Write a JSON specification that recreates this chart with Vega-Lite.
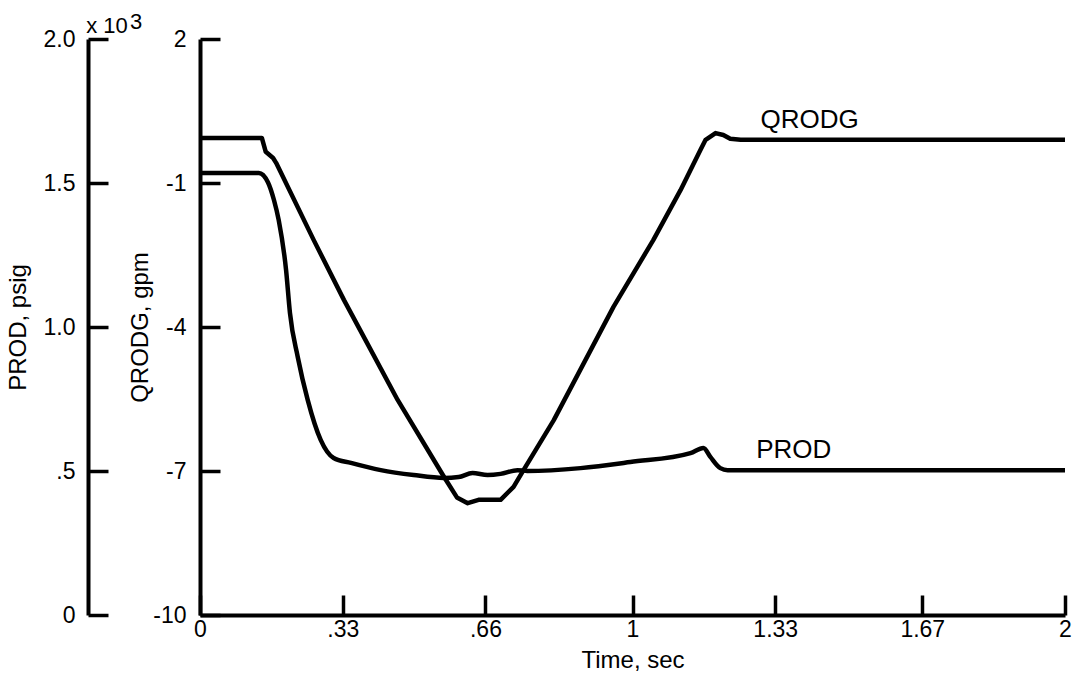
{
  "$schema": "https://vega.github.io/schema/vega-lite/v6.json",
  "width": 865,
  "height": 576,
  "autosize": "none",
  "padding": {"left": 200, "top": 39, "right": 8, "bottom": 66},
  "background": "white",
  "config": {
    "view": {"stroke": null},
    "font": "Liberation Sans",
    "axis": {
      "grid": false,
      "domainColor": "black",
      "domainWidth": 4,
      "tickColor": "black",
      "tickWidth": 3.5,
      "tickSize": -20,
      "labelColor": "black",
      "labelFont": "Liberation Sans",
      "labelFontSize": 23,
      "labelFlush": false,
      "labelOverlap": false,
      "titleColor": "black",
      "titleFont": "Liberation Sans",
      "titleFontSize": 24,
      "titleFontWeight": "normal"
    }
  },
  "datasets": {
    "qrodg": [
      {"t": 0, "v": -0.06},
      {"t": 0.143, "v": -0.06},
      {"t": 0.152, "v": -0.35},
      {"t": 0.169, "v": -0.48},
      {"t": 0.176, "v": -0.58},
      {"t": 0.263, "v": -2.19},
      {"t": 0.333, "v": -3.44},
      {"t": 0.379, "v": -4.21},
      {"t": 0.457, "v": -5.52},
      {"t": 0.564, "v": -7.12},
      {"t": 0.594, "v": -7.55},
      {"t": 0.619, "v": -7.67},
      {"t": 0.644, "v": -7.6},
      {"t": 0.695, "v": -7.6},
      {"t": 0.725, "v": -7.33},
      {"t": 0.748, "v": -6.98},
      {"t": 0.818, "v": -5.94},
      {"t": 0.956, "v": -3.58},
      {"t": 1.048, "v": -2.19},
      {"t": 1.111, "v": -1.15},
      {"t": 1.157, "v": -0.31},
      {"t": 1.169, "v": -0.1},
      {"t": 1.192, "v": 0.04},
      {"t": 1.21, "v": 0.0},
      {"t": 1.226, "v": -0.08},
      {"t": 1.25, "v": -0.1},
      {"t": 2.0, "v": -0.1}
    ],
    "prod": [
      {"t": 0, "p": 1535},
      {"t": 0.136, "p": 1535},
      {"t": 0.157, "p": 1503},
      {"t": 0.171, "p": 1441},
      {"t": 0.182, "p": 1371},
      {"t": 0.199, "p": 1198},
      {"t": 0.208, "p": 1049},
      {"t": 0.226, "p": 896},
      {"t": 0.249, "p": 747},
      {"t": 0.279, "p": 608},
      {"t": 0.309, "p": 545},
      {"t": 0.349, "p": 528},
      {"t": 0.418, "p": 503},
      {"t": 0.494, "p": 486},
      {"t": 0.564, "p": 476},
      {"t": 0.598, "p": 479},
      {"t": 0.63, "p": 493},
      {"t": 0.665, "p": 486},
      {"t": 0.695, "p": 490},
      {"t": 0.734, "p": 503},
      {"t": 0.757, "p": 500},
      {"t": 0.88, "p": 510},
      {"t": 0.995, "p": 531},
      {"t": 1.134, "p": 562},
      {"t": 1.164, "p": 580},
      {"t": 1.18, "p": 549},
      {"t": 1.203, "p": 510},
      {"t": 1.22, "p": 503},
      {"t": 2.0, "p": 503}
    ],
    "qlabel": [{"label": "QRODG", "t": 1.296, "v": 0.31}],
    "plabel": [{"label": "PROD", "t": 1.286, "p": 573}],
    "mult": [
      {"label": "x 10", "t": -0.263, "p": 2021},
      {"label": "3", "t": -0.162, "p": 2033}
    ]
  },
  "layer": [
    {
      "layer": [
        {
          "data": {"name": "qrodg"},
          "mark": {"type": "line", "color": "black", "strokeWidth": 4.5, "interpolate": "linear", "strokeJoin": "round"},
          "encoding": {
            "x": {
              "field": "t", "type": "quantitative",
              "scale": {"domain": [0, 2], "nice": false, "zero": false},
              "axis": {
                "title": "Time, sec",
                "values": [0, 0.33, 0.66, 1, 1.33, 1.67, 2],
                "labelExpr": "datum.value == 0.33 ? '.33' : datum.value == 0.66 ? '.66' : '' + datum.value",
                "labelPadding": 23,
                "titleY": 45,
                "titleBaseline": "middle"
              }
            },
            "y": {
              "field": "v", "type": "quantitative",
              "scale": {"domain": [-10, 2], "nice": false, "zero": false},
              "axis": {
                "orient": "left",
                "title": "QRODG, gpm",
                "values": [-10, -7, -4, -1, 2],
                "labelExpr": "'' + datum.value",
                "labelPadding": 34,
                "titleX": -60,
                "titleY": 288,
                "titleBaseline": "middle"
              }
            }
          }
        },
        {
          "data": {"name": "qlabel"},
          "mark": {"type": "text", "align": "left", "baseline": "middle", "fontSize": 26, "color": "black", "font": "Liberation Sans"},
          "encoding": {
            "x": {"field": "t", "type": "quantitative"},
            "y": {"field": "v", "type": "quantitative"},
            "text": {"field": "label"}
          }
        }
      ]
    },
    {
      "layer": [
        {
          "data": {"name": "prod"},
          "mark": {"type": "line", "color": "black", "strokeWidth": 4.5, "interpolate": "monotone"},
          "encoding": {
            "x": {"field": "t", "type": "quantitative"},
            "y": {
              "field": "p", "type": "quantitative",
              "scale": {"domain": [0, 2000], "nice": false, "zero": false},
              "axis": {
                "orient": "left",
                "offset": 112,
                "title": "PROD, psig",
                "values": [0, 500, 1000, 1500, 2000],
                "labelExpr": "datum.value == 0 ? '0' : datum.value == 500 ? '.5' : format(datum.value / 1000, '.1f')",
                "labelPadding": 33,
                "titleX": -70,
                "titleY": 288,
                "titleBaseline": "middle"
              }
            }
          }
        },
        {
          "data": {"name": "plabel"},
          "mark": {"type": "text", "align": "left", "baseline": "middle", "fontSize": 26, "color": "black", "font": "Liberation Sans"},
          "encoding": {
            "x": {"field": "t", "type": "quantitative"},
            "y": {"field": "p", "type": "quantitative"},
            "text": {"field": "label"}
          }
        },
        {
          "data": {"name": "mult"},
          "mark": {"type": "text", "align": "left", "baseline": "alphabetic", "fontSize": 22, "color": "black", "font": "Liberation Sans"},
          "encoding": {
            "x": {"field": "t", "type": "quantitative"},
            "y": {"field": "p", "type": "quantitative"},
            "text": {"field": "label"}
          }
        }
      ]
    }
  ],
  "resolve": {"scale": {"y": "independent"}, "axis": {"y": "independent"}}
}
